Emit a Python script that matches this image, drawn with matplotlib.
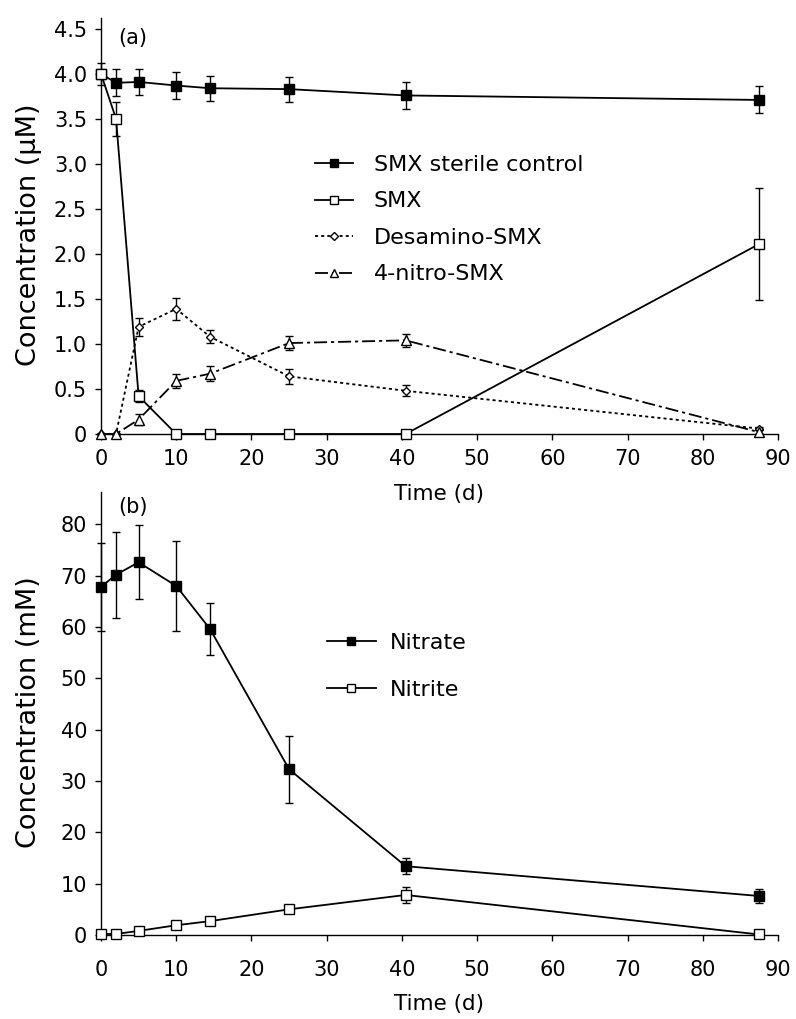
import matplotlib
matplotlib.use("Agg")
import matplotlib.pyplot as plt
from matplotlib.ticker import FixedLocator, FixedFormatter

# Sampling times (days)
time = [0, 2, 5, 10, 14.5, 25, 40.5, 87.5]

# (a) SMX and transformation products (µM)
sterile = [4.00, 3.90, 3.91, 3.87, 3.84, 3.83, 3.76, 3.71]
sterile_err = [0.12, 0.15, 0.14, 0.15, 0.14, 0.14, 0.15, 0.15]
smx = [4.00, 3.50, 0.42, 0.0, 0.0, 0.0, 0.0, 2.11]
smx_err = [0.0, 0.19, 0.07, 0.0, 0.0, 0.0, 0.0, 0.62]
desamino = [0.0, 0.0, 1.19, 1.39, 1.08, 0.64, 0.48, 0.06]
desamino_err = [0.0, 0.0, 0.10, 0.12, 0.07, 0.08, 0.06, 0.02]
nitro = [0.0, 0.0, 0.16, 0.59, 0.67, 1.01, 1.04, 0.02]
nitro_err = [0.0, 0.0, 0.06, 0.08, 0.08, 0.08, 0.07, 0.02]

# (b) Nitrate and nitrite (mM)
nitrate = [67.8, 70.2, 72.6, 68.0, 59.6, 32.3, 13.4, 7.6]
nitrate_err = [8.5, 8.4, 7.2, 8.7, 5.0, 6.5, 1.6, 1.4]
nitrite = [0.2, 0.2, 0.8, 1.9, 2.7, 5.0, 7.8, 0.1]
nitrite_err = [0.0, 0.0, 0.0, 0.3, 0.3, 0.3, 1.5, 0.0]

xticks = [0, 10, 20, 30, 40, 50, 60, 70, 80, 90]
yticks_a = [0, 0.5, 1.0, 1.5, 2.0, 2.5, 3.0, 3.5, 4.0, 4.5]
yticklabels_a = ["0", "0.5", "1.0", "1.5", "2.0", "2.5", "3.0", "3.5", "4.0", "4.5"]
yticks_b = [0, 10, 20, 30, 40, 50, 60, 70, 80]

plt.rcParams["font.family"] = ["DejaVu Sans"]

W, H = 796, 1019
fig = plt.figure(figsize=(W / 100, H / 100), dpi=100)

ax_a = fig.add_axes([101 / W, 1 - 434 / H, 677 / W, (434 - 18) / H])
ax_b = fig.add_axes([101 / W, 1 - 935 / H, 677 / W, (935 - 492) / H])
for ax in (ax_a, ax_b):
    ax.patch.set_visible(False)

LW = 1.3
TICK_FS = 15
LABEL_FS = 15.5
YLABEL_FS = 19.5
LEG_FS = 16


def style_axes(ax, xpad):
    for s in ("top", "right"):
        ax.spines[s].set_visible(False)
    for s in ("left", "bottom"):
        ax.spines[s].set_linewidth(1.0)
    ax.tick_params(direction="out", length=4, width=1.0, labelsize=TICK_FS)
    ax.tick_params(axis="y", pad=6)
    ax.tick_params(axis="x", pad=xpad)
    ax.set_xlim(0, 90)
    ax.xaxis.set_major_locator(FixedLocator(xticks))


def series(ax, y, err, marker, ms, face, ls, z):
    line, = ax.plot(time, y, color="black", lw=LW, linestyle=ls, marker=marker,
                    markersize=ms, markerfacecolor=face, markeredgecolor="black",
                    markeredgewidth=1.0, clip_on=False, zorder=z)
    ax.errorbar(time, y, yerr=err, fmt="none", ecolor="black", elinewidth=1.0,
                capsize=2.8, capthick=1.0, clip_on=False, zorder=z - 0.5)
    return line


# ---- panel (a)
style_axes(ax_a, xpad=7)
ax_a.set_ylim(0, 4.62)
ax_a.yaxis.set_major_locator(FixedLocator(yticks_a))
ax_a.yaxis.set_major_formatter(FixedFormatter(yticklabels_a))

dotted = (0, (1.7, 1.7))
dashdot = (0, (7.2, 2.2, 1.7, 2.2))

h1 = series(ax_a, sterile, sterile_err, "s", 7.0, "black", "-", 3)
h2 = series(ax_a, smx, smx_err, "s", 7.0, "white", "-", 4)
h3 = series(ax_a, desamino, desamino_err, "D", 4.4, "white", dotted, 5)
h4 = series(ax_a, nitro, nitro_err, "^", 6.5, "white", dashdot, 6)

ax_a.set_xlabel("Time (d)", fontsize=LABEL_FS)
ax_a.xaxis.set_label_coords(0.5, -(494 - 434) / 416, transform=ax_a.transAxes)
ax_a.xaxis.label.set_va("center")
ax_a.set_ylabel("Concentration (µM)", fontsize=YLABEL_FS)
ax_a.yaxis.set_label_coords(-(101 - 29) / 677, (434 - 235) / 416)
ax_a.yaxis.label.set_va("center")
ax_a.text(118 / W, 1 - 38 / H, "(a)", transform=fig.transFigure, fontsize=15,
          va="center", ha="left")

ax_a.legend([h1, h2, h3, h4],
            ["SMX sterile control", "SMX", "Desamino-SMX", "4-nitro-SMX"],
            loc="upper left", bbox_to_anchor=(315 / W, 1 - 155 / H),
            bbox_transform=fig.transFigure, frameon=False, fontsize=LEG_FS,
            handlelength=1.7, handletextpad=0.95, labelspacing=0.74,
            borderpad=0, borderaxespad=0, markerscale=0.85)

# ---- panel (b)
style_axes(ax_b, xpad=14)
ax_b.set_ylim(0, 86.3)
ax_b.yaxis.set_major_locator(FixedLocator(yticks_b))

g1 = series(ax_b, nitrate, nitrate_err, "s", 7.0, "black", "-", 3)
g2 = series(ax_b, nitrite, nitrite_err, "s", 7.0, "white", "-", 4)

ax_b.set_xlabel("Time (d)", fontsize=LABEL_FS)
ax_b.xaxis.set_label_coords(0.5, -(1004 - 935) / 443, transform=ax_b.transAxes)
ax_b.xaxis.label.set_va("center")
ax_b.set_ylabel("Concentration (mM)", fontsize=YLABEL_FS)
ax_b.yaxis.set_label_coords(-(101 - 29) / 677, (935 - 712) / 443)
ax_b.yaxis.label.set_va("center")
ax_b.text(118 / W, 1 - 507 / H, "(b)", transform=fig.transFigure, fontsize=15,
          va="center", ha="left")

ax_b.legend([g1, g2], ["Nitrate", "Nitrite"],
            loc="upper left", bbox_to_anchor=(327 / W, 1 - 633 / H),
            bbox_transform=fig.transFigure, frameon=False, fontsize=LEG_FS,
            handlelength=2.2, handletextpad=0.65, labelspacing=1.22,
            borderpad=0, borderaxespad=0, markerscale=0.85)

fig.savefig("out.png", dpi=100)
